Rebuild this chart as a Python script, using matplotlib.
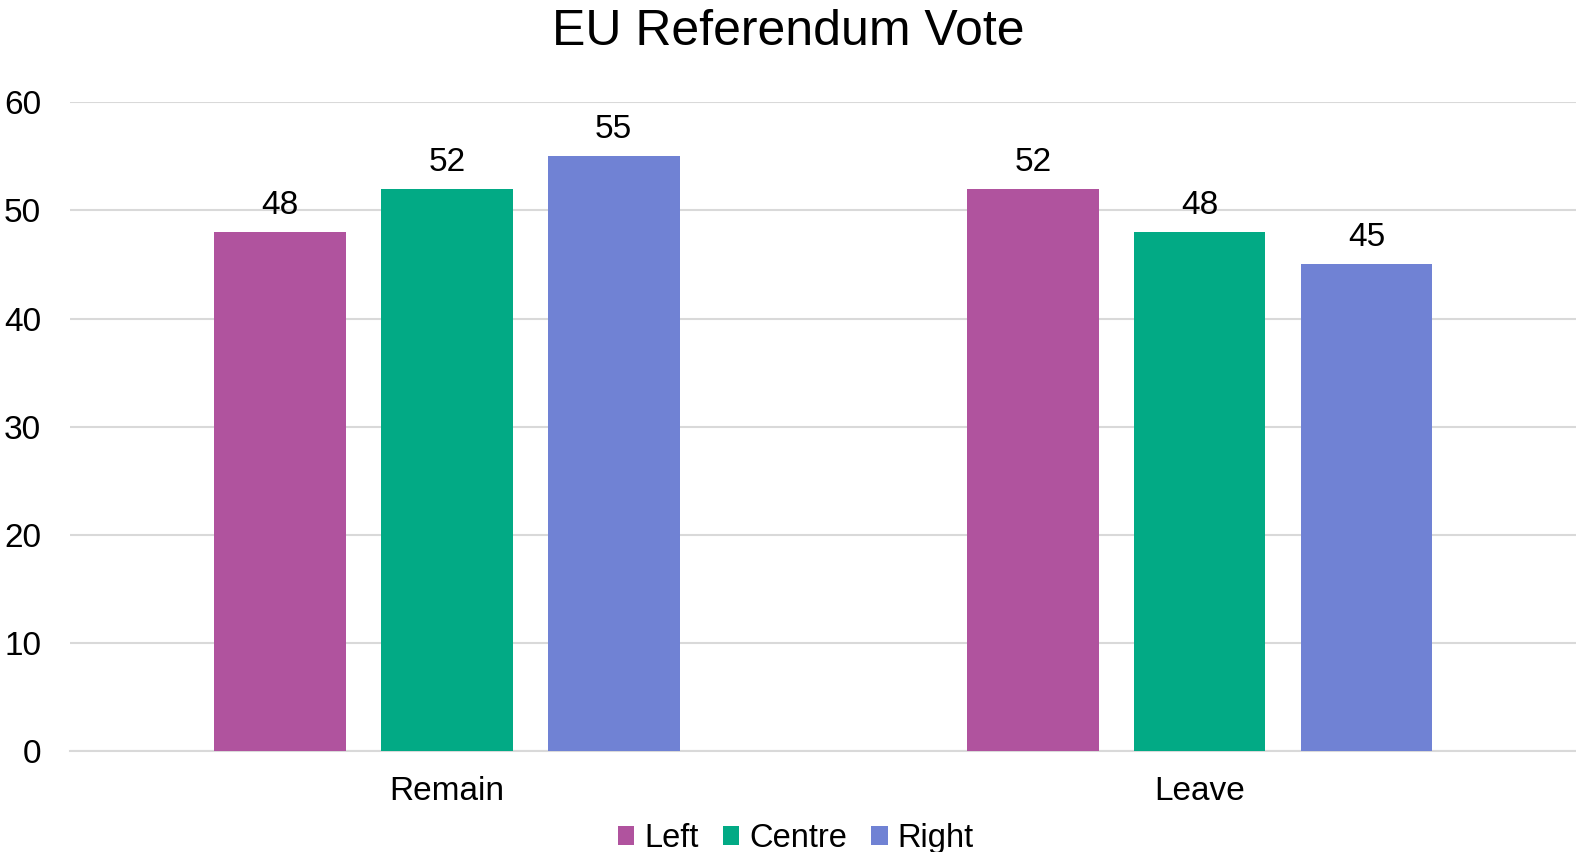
import numpy as np
import matplotlib.pyplot as plt
from matplotlib.patches import Patch

plt.rcParams['font.family'] = ['Liberation Sans', 'DejaVu Sans']

categories = ["Remain", "Leave"]
series = ["Left", "Centre", "Right"]
left_vals = [48, 52]
centre_vals = [52, 48]
right_vals = [55, 45]
colors = ["#B0539E", "#02AA85", "#7082D4"]
yticks = [0, 10, 20, 30, 40, 50, 60]

fig = plt.figure(figsize=(15.76, 8.52), dpi=100)
ax = fig.add_axes([0.0447, 0.1185, 0.9553, 0.7615])

x = np.arange(len(categories))
step = 0.2216
width = 0.175
for i, (vals, name, c) in enumerate(zip([left_vals, centre_vals, right_vals], series, colors)):
    bars = ax.bar(x + (i - 1) * step, vals, width, color=c, label=name, zorder=3)
    ax.bar_label(bars, padding=8, fontsize=24, color="black")

ax.set_xlim(-0.5, 1.5)
ax.set_ylim(0, 60)
ax.set_yticks(yticks)
ax.set_xticks(x)
ax.set_xticklabels(categories)
ax.tick_params(axis="y", length=0, pad=21, labelsize=24)
ax.tick_params(axis="x", length=0, pad=18, labelsize=24)
ax.grid(axis="y", color="#D9D9D9", linewidth=1.5, zorder=0)
for s in ["top", "right", "left"]:
    ax.spines[s].set_visible(False)
ax.spines["bottom"].set_color("#D9D9D9")
ax.spines["bottom"].set_linewidth(1.5)

fig.suptitle("EU Referendum Vote", fontsize=36, y=0.99, va="top")

handles = [Patch(facecolor=c, label=n) for c, n in zip(colors, series)]
fig.legend(handles=handles, loc="center", bbox_to_anchor=(0.505, 0.016), ncol=3,
           frameon=False, fontsize=23.5, handlelength=0.5, handleheight=0.5,
           handletextpad=0.3, columnspacing=0.75, borderpad=0.2)

fig.savefig("out.png", dpi=100)
